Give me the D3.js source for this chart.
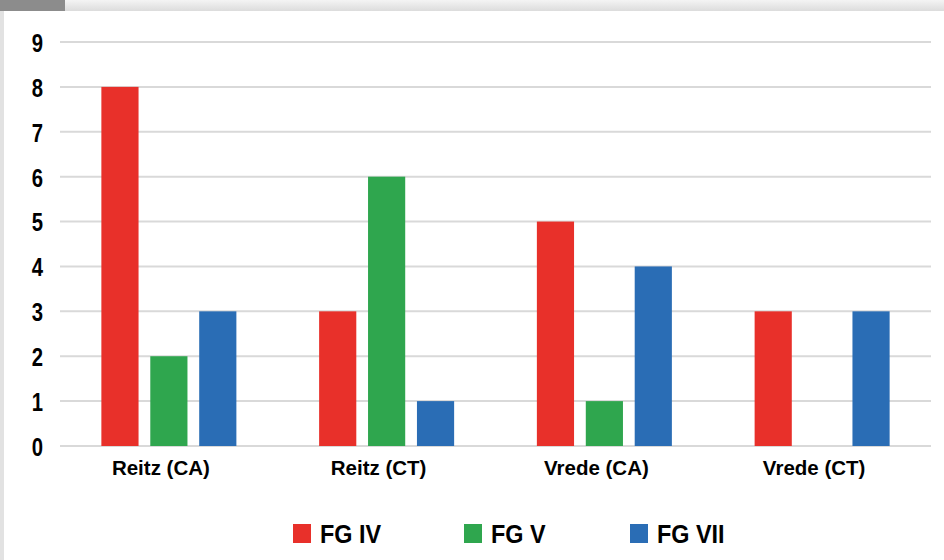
<!DOCTYPE html>
<html>
<head>
<meta charset="utf-8">
<script src="https://cdn.jsdelivr.net/npm/d3@7"></script>
<style>
  body { margin: 0; background: #fff; }
  svg { display: block; font-family: "Liberation Sans", Arial, sans-serif; }
</style>
</head>
<body>
<script>
// categories and series
var categories = ["Reitz (CA)", "Reitz (CT)", "Vrede (CA)", "Vrede (CT)"];
var seriesNames = ["FG IV", "FG V", "FG VII"];
var fgIV = [8, 3, 5, 3];
var fgV = [2, 6, 1, 0];
var fgVII = [3, 1, 4, 3];
var yTicks = [0, 1, 2, 3, 4, 5, 6, 7, 8, 9];
var colors = ["#e8302a", "#2fa64e", "#2a6db5"];

var W = 944, H = 560;
var margin = {top: 42, right: 13, bottom: 114, left: 60};

var svg = d3.select("body").append("svg")
    .attr("width", W)
    .attr("height", H);

// frame: top gray strip, dark tab, left edge
var defs = svg.append("defs");
var grad = defs.append("linearGradient").attr("id", "topg")
    .attr("x1", 0).attr("y1", 0).attr("x2", 0).attr("y2", 1);
grad.append("stop").attr("offset", "0%").attr("stop-color", "#f4f4f4");
grad.append("stop").attr("offset", "100%").attr("stop-color", "#dcdcdc");
svg.append("rect").attr("x", 0).attr("y", 0).attr("width", W).attr("height", 11)
    .attr("fill", "url(#topg)");
svg.append("rect").attr("x", 0).attr("y", 0).attr("width", 65).attr("height", 11)
    .attr("fill", "#8c8c8c");
svg.append("rect").attr("x", 0).attr("y", 11).attr("width", 4).attr("height", H - 11)
    .attr("fill", "#e2e2e2");

var x = d3.scaleBand()
    .domain(categories)
    .range([margin.left, W - margin.right])
    .paddingInner(0.38)
    .paddingOuter(0.19);

var x1 = d3.scaleBand()
    .domain(seriesNames)
    .range([0, x.bandwidth()])
    .paddingInner(0.24);

var y = d3.scaleLinear().domain([0, 9]).range([H - margin.bottom, margin.top]);

// gridlines
svg.append("g").selectAll("line")
    .data(yTicks)
    .enter().append("line")
    .attr("x1", margin.left)
    .attr("x2", W - margin.right)
    .attr("y1", d => y(d))
    .attr("y2", d => y(d))
    .attr("stroke", "#d9d9d9")
    .attr("stroke-width", 2);

// y axis labels (tall, narrow digits like the source)
var yAxis = d3.axisLeft(y).tickValues(yTicks).tickSize(0).tickPadding(0);
var yg = svg.append("g")
    .attr("transform", "translate(" + 43 + ",0)")
    .call(yAxis);
yg.select(".domain").remove();
yg.selectAll("text")
    .attr("font-size", 26)
    .attr("font-weight", "bold")
    .attr("fill", "#000")
    .attr("dy", "0.36em")
    .attr("transform", "scale(0.78,1)")
    .attr("font-family", "Liberation Sans, Arial, sans-serif");

// bars
var seriesData = [fgIV, fgV, fgVII];
var rows = [];
categories.forEach(function(c, i) {
    seriesNames.forEach(function(s, j) {
        rows.push({cat: c, series: s, value: seriesData[j][i], idx: j});
    });
});

svg.append("g").selectAll("rect")
    .data(rows.filter(d => d.value > 0))
    .enter().append("rect")
    .attr("x", d => x(d.cat) + x1(d.series))
    .attr("y", d => y(d.value))
    .attr("width", x1.bandwidth())
    .attr("height", d => y(0) - y(d.value))
    .attr("fill", d => colors[d.idx]);

// x axis labels
var xAxis = d3.axisBottom(x).tickSize(0).tickPadding(0);
var xg = svg.append("g")
    .attr("transform", "translate(-8," + (y(0) + 14) + ")")
    .call(xAxis);
xg.select(".domain").remove();
xg.selectAll("text")
    .attr("font-size", 20.5)
    .attr("font-weight", "bold")
    .attr("fill", "#000")
    .attr("font-family", "Liberation Sans, Arial, sans-serif");

// legend
var legendX = [293, 464, 630];
var leg = svg.append("g").selectAll("g")
    .data(seriesNames)
    .enter().append("g")
    .attr("transform", (d, i) => "translate(" + legendX[i] + ",524)");
leg.append("rect")
    .attr("width", 18).attr("height", 19)
    .attr("fill", (d, i) => colors[i]);
leg.append("text")
    .attr("x", 27 / 0.9)
    .attr("y", 19)
    .attr("font-size", 26)
    .attr("font-weight", "bold")
    .attr("fill", "#000")
    .attr("transform", "scale(0.9,1)")
    .text(d => d);
</script>
</body>
</html>
